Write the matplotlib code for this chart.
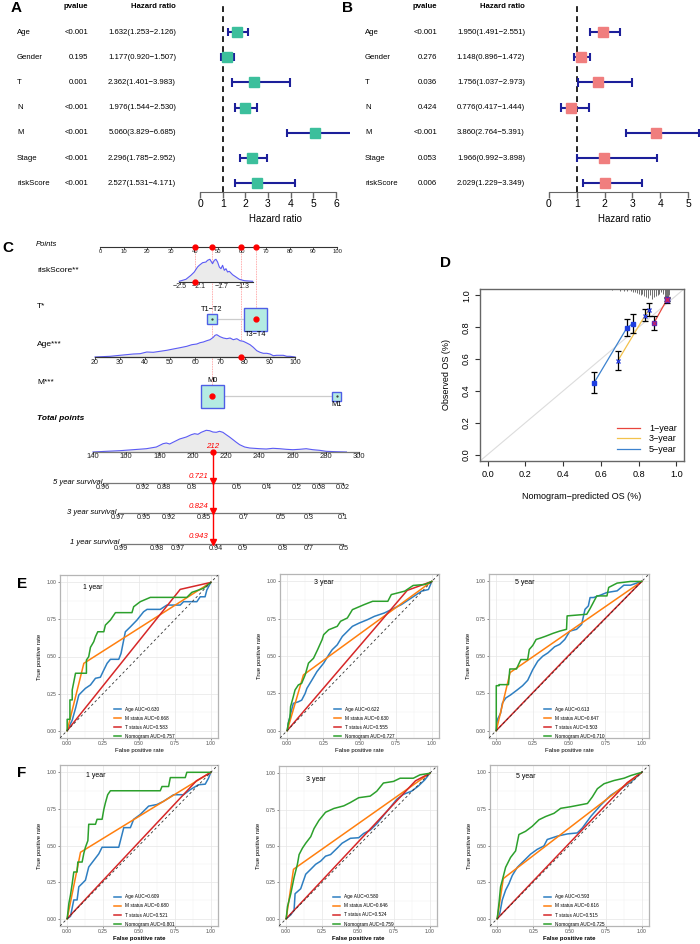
import numpy as np
import matplotlib
matplotlib.use('Agg')
import matplotlib.pyplot as plt
from matplotlib.patches import Rectangle, Polygon
from matplotlib.lines import Line2D

plt.rcParams['font.family'] = ['Liberation Sans', 'DejaVu Sans']

# ---------------- data: forest plots (A univariate, B multivariate) ----------------
forest_vars = ['Age', 'Gender', 'T', 'N', 'M', 'Stage', 'riskScore']
uni_p = ['<0.001', '0.195', '0.001', '<0.001', '<0.001', '<0.001', '<0.001']
uni_hr = [1.632, 1.177, 2.362, 1.976, 5.060, 2.296, 2.527]
uni_lo = [1.253, 0.920, 1.401, 1.544, 3.829, 1.785, 1.531]
uni_hi = [2.126, 1.507, 3.983, 2.530, 6.685, 2.952, 4.171]
multi_p = ['<0.001', '0.276', '0.036', '0.424', '<0.001', '0.053', '0.006']
multi_hr = [1.950, 1.148, 1.756, 0.776, 3.860, 1.966, 2.029]
multi_lo = [1.491, 0.896, 1.037, 0.417, 2.764, 0.992, 1.229]
multi_hi = [2.551, 1.472, 2.973, 1.444, 5.391, 3.898, 3.349]

# ---------------- data: nomogram (C) ----------------
points_ticks = [0, 10, 20, 30, 40, 50, 60, 70, 80, 90, 100]
rs_ticks = [-2.5, -2.1, -1.7, -1.3]
rs_tick_pts = [33.8, 41.8, 51.1, 60.3]
rs_dens_x = [-2.5, -2.373, -2.278, -2.214, -2.152, -2.119, -2.056, -1.992, -1.962, -1.917,
             -1.867, -1.833, -1.802, -1.771, -1.738, -1.707, -1.676, -1.643, -1.612, -1.581,
             -1.548, -1.486, -1.421, -1.357, -1.262, -1.105]
rs_dens_h = [0.7, 2.7, 6.7, 10, 15, 16.7, 19.3, 20, 21.7, 22.7, 18.3, 21.7, 22.7, 20, 15,
             13.3, 16.7, 11.7, 13.3, 10, 10.7, 7.3, 5, 2.7, 1.3, 0.7]
t_levels = ['T1−T2', 'T3−T4']
t_pts = [47.3, 65.8]
t_box = [10, 23]
age_ticks = [20, 30, 40, 50, 60, 70, 80, 90, 100]
age_tick_pts = [-2.1, 8.45, 19.0, 29.55, 40.1, 50.65, 61.2, 71.75, 82.3]
age_dens_x = [20, 26, 30, 35.3, 38, 40.7, 43.3, 46, 48.7, 51.3, 54, 56.7, 58.7, 60.7, 62, 63.3,
              64.7, 66, 67.3, 68, 68.7, 70, 71.3, 72.7, 74, 75.3, 76.7, 78, 79.3, 80.7, 82,
              83.3, 84.7, 86, 87.3, 88.7, 90, 91.3, 92.7, 95.3, 96.7, 98, 100]
age_dens_h = [0, 0.7, 1.7, 3, 3.3, 5, 4.7, 5.7, 6.7, 8, 9.3, 10.7, 12.3, 13, 14.3, 15, 16.3,
              17.3, 19.7, 21.7, 22.3, 20.3, 19, 18.3, 19, 17.3, 18.3, 16.3, 15.7, 14, 12.3,
              9.7, 6.3, 4.7, 3.7, 3.7, 3, 1.3, 1.7, 1.7, 0.7, 0.7, 0]
m_levels = ['M0', 'M1']
m_pts = [47.3, 100.0]
m_box = [23, 9]
tot_ticks = [140, 160, 180, 200, 220, 240, 260, 280, 300]
tot_tick_pts = [-2.95, 11.08, 25.1, 39.1, 53.2, 67.2, 81.3, 95.3, 109.3]
tot_dens_x = [140, 148, 156.1, 164.1, 172.1, 178.1, 182.1, 184.1, 186.1, 188.1, 192.1, 196.1,
              199.1, 201.1, 203.1, 205.1, 208.1, 210.1, 212.1, 214.1, 216.1, 218.1, 220.1,
              222.1, 224.2, 226.2, 228.2, 231.2, 234.2, 240.2, 244.2, 248.2, 252.2, 256.2,
              260.2, 264.2, 268.2, 272.2, 276.2, 280.2, 286.2, 292.4]
tot_dens_h = [0, 0.7, 1.3, 2.3, 3.3, 5, 8.3, 9, 8, 9.7, 13, 15, 17.3, 18.3, 17.7, 19.7, 21.7,
              21.3, 20, 19.7, 20.7, 19.7, 17.3, 15, 12.3, 9.7, 7.3, 5, 4, 3.3, 3, 3.7, 3.3,
              2.7, 2.3, 2.7, 3.3, 2.3, 1.7, 0.7, 0.3, 0]
s5_labels = ['0.96', '0.92', '0.88', '0.8', '0.6', '0.4', '0.2', '0.08', '0.02']
s5_tot = [146, 170, 182.7, 199.5, 226.6, 244.7, 262.7, 276, 290.4]
s3_labels = ['0.97', '0.95', '0.92', '0.85', '0.7', '0.5', '0.3', '0.1']
s3_tot = [155, 170.7, 185.7, 206.8, 230.8, 252.6, 270, 290.5]
s1_labels = ['0.99', '0.98', '0.97', '0.94', '0.9', '0.8', '0.7', '0.5']
s1_tot = [156.8, 178.5, 191, 214, 230, 254.3, 269.5, 290.5]
patient_pts = [40.1, 65.8, 59.5, 47.3]      # riskScore, T, Age, M
patient_total = 212
patient_surv = ['0.721', '0.824', '0.943']  # 5, 3, 1 year

# ---------------- data: calibration (D) ----------------
cal1_x = [0.880, 0.948, 0.952]
cal1_y = [0.825, 0.970, 0.978]
cal1_lo = [0.785, 0.955, 0.965]
cal1_hi = [0.870, 0.985, 0.990]
cal3_x = [0.690, 0.832, 0.855]
cal3_y = [0.590, 0.870, 0.910]
cal3_lo = [0.530, 0.840, 0.870]
cal3_hi = [0.650, 0.915, 0.950]
cal5_x = [0.562, 0.738, 0.768]
cal5_y = [0.447, 0.797, 0.822]
cal5_lo = [0.385, 0.745, 0.765]
cal5_hi = [0.520, 0.850, 0.880]
spike_x = [0.66, 0.70, 0.72, 0.74, 0.76, 0.77, 0.78, 0.79, 0.80, 0.81, 0.82, 0.83, 0.84, 0.85,
           0.86, 0.87, 0.88, 0.89, 0.90, 0.91, 0.92, 0.93, 0.94, 0.945, 0.95, 0.955, 0.96]
spike_len = [0.005, 0.01, 0.01, 0.015, 0.015, 0.02, 0.02, 0.025, 0.03, 0.035, 0.03, 0.045,
             0.05, 0.055, 0.04, 0.06, 0.05, 0.045, 0.035, 0.03, 0.02, 0.03, 0.06, 0.08, 0.09,
             0.07, 0.04]

# ---------------- data: ROC curves (E, F) ----------------
roc_labels = ['Age', 'M status', 'T status', 'Nomogram']
roc_titles = ['1 year', '3 year', '5 year']
E_auc = [[0.630, 0.668, 0.583, 0.757], [0.622, 0.630, 0.555, 0.727], [0.613, 0.647, 0.503, 0.710]]
F_auc = [[0.609, 0.680, 0.521, 0.801], [0.580, 0.646, 0.524, 0.759], [0.593, 0.616, 0.515, 0.725]]

E1_age = [(0, 0), (0.035, 0.07), (0.058, 0.15), (0.081, 0.24), (0.104, 0.263), (0.127, 0.285),
          (0.162, 0.308), (0.197, 0.353), (0.231, 0.36), (0.255, 0.409), (0.278, 0.454),
          (0.301, 0.481), (0.359, 0.481), (0.375, 0.521), (0.405, 0.667), (0.44, 0.7),
          (0.486, 0.746), (0.532, 0.802), (0.556, 0.818), (0.648, 0.818), (0.694, 0.847),
          (0.787, 0.847), (0.81, 0.87), (0.903, 0.87), (0.926, 0.903), (0.96, 0.903),
          (0.972, 0.948), (1, 1)]
E1_m = [(0, 0), (0.116, 0.454), (1, 1)]
E1_t = [(0, 0), (0.787, 0.953), (1, 1)]
E1_nom = [(0, 0), (0, 0.076), (0.019, 0.076), (0.019, 0.207), (0.035, 0.207), (0.035, 0.274),
          (0.058, 0.387), (0.134, 0.387), (0.134, 0.476), (0.15, 0.499), (0.162, 0.562),
          (0.185, 0.6), (0.197, 0.634), (0.213, 0.667), (0.255, 0.667), (0.266, 0.712),
          (0.301, 0.746), (0.336, 0.796), (0.451, 0.796), (0.463, 0.836), (0.509, 0.87),
          (0.579, 0.899), (0.833, 0.899), (0.868, 0.933), (0.949, 0.96), (1, 1)]

E2_age = [(0, 0), (0.007, 0.047), (0.042, 0.182), (0.077, 0.193), (0.1, 0.204), (0.124, 0.249),
          (0.136, 0.283), (0.171, 0.339), (0.206, 0.396), (0.252, 0.452), (0.287, 0.508),
          (0.311, 0.542), (0.346, 0.575), (0.381, 0.631), (0.416, 0.665), (0.451, 0.699),
          (0.498, 0.721), (0.556, 0.744), (0.603, 0.766), (0.673, 0.789), (0.72, 0.811),
          (0.79, 0.845), (0.86, 0.89), (0.93, 0.935), (0.977, 0.946), (1, 1)]
E2_m = [(0, 0), (0.112, 0.373), (1, 1)]
E2_t = [(0, 0), (0.83, 0.94), (1, 1)]
E2_nom = [(0, 0), (0.007, 0.047), (0.019, 0.092), (0.023, 0.16), (0.042, 0.227), (0.054, 0.272),
          (0.077, 0.306), (0.1, 0.317), (0.124, 0.373), (0.147, 0.452), (0.182, 0.485),
          (0.21, 0.542), (0.241, 0.609), (0.252, 0.643), (0.287, 0.676), (0.346, 0.699),
          (0.369, 0.733), (0.416, 0.755), (0.451, 0.811), (0.533, 0.845), (0.591, 0.867),
          (0.696, 0.867), (0.72, 0.912), (0.813, 0.935), (0.871, 0.973), (0.953, 0.98), (1, 1)]

E3_age = [(0, 0), (0.007, 0.072), (0.03, 0.117), (0.042, 0.184), (0.065, 0.218), (0.1, 0.24),
          (0.146, 0.274), (0.181, 0.301), (0.216, 0.337), (0.251, 0.409), (0.285, 0.465),
          (0.32, 0.499), (0.355, 0.521), (0.401, 0.562), (0.436, 0.578), (0.471, 0.611),
          (0.506, 0.667), (0.552, 0.679), (0.587, 0.712), (0.61, 0.813), (0.633, 0.836),
          (0.645, 0.892), (0.668, 0.892), (0.715, 0.908), (0.761, 0.926), (0.831, 0.937),
          (0.877, 0.975), (0.923, 0.975), (1, 1)]
E3_m = [(0, 0), (0.095, 0.389), (1, 1)]
E3_t = [(0, 0), (0.5, 0.506), (1, 1)]
E3_nom = [(0, 0), (0, 0.301), (0.019, 0.301), (0.019, 0.308), (0.084, 0.308), (0.093, 0.413),
          (0.139, 0.413), (0.153, 0.443), (0.169, 0.476), (0.216, 0.476), (0.227, 0.544),
          (0.251, 0.571), (0.274, 0.611), (0.309, 0.622), (0.343, 0.634), (0.39, 0.652),
          (0.436, 0.667), (0.483, 0.679), (0.487, 0.769), (0.622, 0.78), (0.645, 0.818),
          (0.691, 0.903), (0.761, 0.903), (0.773, 0.96), (0.831, 0.989), (0.923, 1), (1, 1)]

F1_age = [(0, 0), (0.023, 0.016), (0.046, 0.128), (0.069, 0.128), (0.081, 0.218), (0.104, 0.24),
          (0.127, 0.263), (0.15, 0.353), (0.185, 0.398), (0.22, 0.443), (0.243, 0.488),
          (0.359, 0.488), (0.394, 0.622), (0.44, 0.622), (0.463, 0.679), (0.509, 0.712),
          (0.567, 0.769), (0.625, 0.78), (0.671, 0.802), (0.741, 0.847), (0.81, 0.847),
          (0.856, 0.881), (0.914, 0.915), (0.961, 0.919), (0.984, 0.96), (1, 1)]
F1_m = [(0, 0), (0.093, 0.454), (1, 1)]
F1_t = [(0, 0), (0.90, 0.942), (1, 1)]
F1_nom = [(0, 0), (0.012, 0.106), (0.023, 0.162), (0.035, 0.24), (0.046, 0.319), (0.069, 0.319),
          (0.074, 0.387), (0.104, 0.387), (0.116, 0.447), (0.127, 0.488), (0.144, 0.533),
          (0.15, 0.645), (0.197, 0.645), (0.208, 0.679), (0.243, 0.679), (0.255, 0.746),
          (0.266, 0.791), (0.282, 0.847), (0.301, 0.874), (0.648, 0.874), (0.66, 0.903),
          (0.706, 0.903), (0.718, 0.964), (0.822, 0.964), (0.833, 1), (1, 1)]

F2_age = [(0, 0), (0.032, 0.027), (0.055, 0.06), (0.062, 0.172), (0.101, 0.206), (0.136, 0.306),
          (0.171, 0.34), (0.205, 0.374), (0.24, 0.396), (0.274, 0.43), (0.309, 0.441),
          (0.355, 0.485), (0.389, 0.519), (0.447, 0.553), (0.505, 0.557), (0.539, 0.586),
          (0.585, 0.609), (0.631, 0.653), (0.677, 0.709), (0.724, 0.765), (0.77, 0.821),
          (0.816, 0.855), (0.873, 0.877), (0.919, 0.911), (0.965, 0.955), (1, 1)]
F2_m = [(0, 0), (0.051, 0.34), (1, 1)]
F2_t = [(0, 0), (0.9, 0.948), (1, 1)]
F2_nom = [(0, 0), (0.009, 0.083), (0.032, 0.172), (0.055, 0.284), (0.078, 0.374), (0.09, 0.441),
          (0.113, 0.485), (0.136, 0.519), (0.171, 0.564), (0.194, 0.62), (0.228, 0.676),
          (0.274, 0.732), (0.332, 0.758), (0.401, 0.776), (0.447, 0.799), (0.505, 0.832),
          (0.585, 0.843), (0.631, 0.877), (0.677, 0.933), (0.747, 0.944), (0.793, 0.966),
          (0.885, 0.966), (0.931, 0.989), (1, 1)]

F3_age = [(0, 0), (0.018, 0.038), (0.035, 0.128), (0.058, 0.195), (0.081, 0.239), (0.104, 0.295),
          (0.139, 0.351), (0.185, 0.396), (0.231, 0.441), (0.277, 0.474), (0.323, 0.497),
          (0.346, 0.541), (0.416, 0.564), (0.485, 0.579), (0.554, 0.586), (0.589, 0.62),
          (0.647, 0.698), (0.716, 0.776), (0.785, 0.843), (0.855, 0.888), (0.924, 0.933), (1, 1)]
F3_m = [(0, 0), (0.042, 0.274), (1, 1)]
F3_t = [(0, 0), (0.9, 0.93), (1, 1)]
F3_nom = [(0, 0), (0.012, 0.105), (0.023, 0.217), (0.035, 0.262), (0.058, 0.351), (0.092, 0.418),
          (0.127, 0.463), (0.15, 0.575), (0.196, 0.597), (0.242, 0.631), (0.289, 0.676),
          (0.335, 0.698), (0.393, 0.72), (0.439, 0.754), (0.508, 0.765), (0.624, 0.787),
          (0.658, 0.832), (0.693, 0.888), (0.739, 0.922), (0.808, 0.944), (0.878, 0.96),
          (0.924, 0.978), (1, 1)]

# ---------------- figure ----------------
W, H = 700, 944
fig = plt.figure(figsize=(W / 100, H / 100), dpi=100)


def pax(x0, y0, x1, y1):
    return fig.add_axes([x0 / W, 1 - y1 / H, (x1 - x0) / W, (y1 - y0) / H])


ov = fig.add_axes([0, 0, 1, 1])
ov.set_xlim(0, W)
ov.set_ylim(H, 0)
ov.axis('off')
ov.set_zorder(20)

LETTER = dict(fontsize=11, fontweight='bold', ha='left', va='top')
ov.text(11, 1, 'A', **LETTER)
ov.text(342, 1, 'B', **LETTER)
ov.text(2, 241, 'C', **LETTER)
ov.text(440, 256, 'D', **LETTER)
ov.text(17, 577, 'E', **LETTER)
ov.text(17, 766, 'F', **LETTER)

CI_COLOR = '#1C1F9A'


def forest(x_name, x_p, x_hr, x_zero, ppu, x_right, tmax, hr, lo, hi, pv, color):
    row0, step = 32.0, 25.2
    ax = pax(x_zero, 3, x_right, 192)
    ax.patch.set_alpha(0)
    n = len(hr)
    rows = np.arange(n)
    ax.set_xlim(0, (x_right - x_zero) / ppu)
    ax.set_ylim((192 - row0) / step, (3 - row0) / step)
    ax.axvline(1, color='black', ls=(0, (3.5, 2.5)), lw=1.2)
    ax.hlines(rows, lo, hi, color=CI_COLOR, lw=1.5)
    ax.vlines(lo, rows - 0.17, rows + 0.17, color=CI_COLOR, lw=1.5)
    ax.vlines(hi, rows - 0.17, rows + 0.17, color=CI_COLOR, lw=1.5)
    ax.plot(hr, rows, 's', color=color, ms=6.5, mec=color, zorder=5)
    for s in ['left', 'top', 'right']:
        ax.spines[s].set_visible(False)
    ax.spines['bottom'].set_bounds(0, tmax)
    ax.spines['bottom'].set_color('#666666')
    ax.set_xticks(range(tmax + 1))
    ax.set_yticks([])
    ax.tick_params(axis='x', length=4, width=1, color='#666666', labelsize=7.5, pad=1)
    ax.set_xlabel('Hazard ratio', fontsize=7, labelpad=4)
    ov.text(x_p, 7, 'pvalue', fontsize=5.6, fontweight='bold', ha='right', va='center')
    ov.text(x_hr, 7, 'Hazard ratio', fontsize=5.6, fontweight='bold', ha='right', va='center')
    for i in range(n):
        y = row0 + step * i
        ov.text(x_name, y, forest_vars[i], fontsize=5.6, ha='left', va='center')
        ov.text(x_p, y, pv[i], fontsize=5.6, ha='right', va='center')
        ov.text(x_hr, y, f'{hr[i]:.3f}({lo[i]:.3f}\u2212{hi[i]:.3f})', fontsize=5.6,
                ha='right', va='center')


forest(17, 88, 176, 200, 22.67, 350, 6, uni_hr, uni_lo, uni_hi, uni_p, '#3CBF9C')
forest(365, 437, 525, 549, 27.8, 700, 5, multi_hr, multi_lo, multi_hi, multi_p, '#F07E7E')

# ---------------- C: nomogram ----------------
PX0, PPU = 100.0, 2.37   # points scale: pixel of 0 points and pixels per point


def p_of(px):
    return (px - PX0) / PPU


axC = pax(0, 228, 370, 560)
axC.set_xlim(p_of(0), p_of(370))
axC.set_ylim(560, 228)
axC.axis('off')
axC.patch.set_alpha(0)

y_pts, y_rs, y_t, y_age, y_m, y_tot, y_s5, y_s3, y_s1 = 247, 282, 319, 357, 396, 452, 483, 513, 544
xl = p_of(37)
lab = dict(fontsize=6, ha='left', va='center')
axC.text(p_of(36), 244, 'Points', fontsize=5.5, style='italic', ha='left', va='center')
axC.text(xl, 270, 'riskScore**', **lab)
axC.text(xl, 307, 'T*', **lab)
axC.text(xl, 345, 'Age***', **lab)
axC.text(xl, 383, 'M***', **lab)
axC.text(xl, 418, 'Total points', fontsize=6, fontweight='bold', style='italic', ha='left',
         va='center')

AXC = '#333333'
TK = dict(ha='center', va='top', fontsize=5, color='#222222')


def hscale(y, xs, labels, fs=5, tick=2.0, lab_off=2.5):
    axC.plot([xs[0], xs[-1]], [y, y], color=AXC, lw=0.8)
    for x, l in zip(xs, labels):
        axC.plot([x, x], [y, y + tick], color=AXC, lw=0.6)
        axC.text(x, y + lab_off, l, ha='center', va='top', fontsize=fs, color='#222222')


# Points axis
hscale(y_pts, points_ticks, [str(v) for v in points_ticks], fs=4.2, tick=1.5, lab_off=2)

# riskScore
rs_fit = np.polyfit(rs_ticks, rs_tick_pts, 1)
rsx = np.polyval(rs_fit, rs_dens_x)
poly = np.column_stack([np.r_[rsx, rsx[::-1]], np.r_[y_rs - np.array(rs_dens_h), np.full(len(rsx), y_rs)]])
axC.add_patch(Polygon(poly, closed=True, fc='#EBEBEB', ec='none'))
axC.plot(rsx, y_rs - np.array(rs_dens_h), color='#5B5BF5', lw=0.8)
axC.plot([rsx[0], rsx[-1]], [y_rs, y_rs], color=AXC, lw=0.8)
for x, v in zip(rs_tick_pts, rs_ticks):
    axC.plot([x, x], [y_rs, y_rs + 1.5], color=AXC, lw=0.6)
    axC.text(x, y_rs + 1.5, f'{v:.1f}'.replace('-', '\u2212'), **TK)

# T boxes
BOXF, BOXE = '#B4EBE2', '#4E5EE6'
axC.plot(t_pts, [y_t, y_t], color='#CCCCCC', lw=0.9, zorder=1)
for x, s in zip(t_pts, t_box):
    axC.add_patch(Rectangle((x - s / 2 / PPU, y_t - s / 2), s / PPU, s, fc=BOXF, ec=BOXE, lw=1, zorder=2))
    axC.plot(x, y_t, '.', color='#333333', ms=1.2, zorder=3)
axC.text(t_pts[0], y_t - t_box[0] / 2 - 1, t_levels[0], ha='center', va='bottom', fontsize=5.3)
axC.text(t_pts[1], y_t + t_box[1] / 2 + 0.5, t_levels[1], ha='center', va='top', fontsize=5.3)

# Age
age_fit = np.polyfit(age_ticks, age_tick_pts, 1)
agx = np.polyval(age_fit, age_dens_x)
poly = np.column_stack([np.r_[agx, agx[::-1]], np.r_[y_age - np.array(age_dens_h), np.full(len(agx), y_age)]])
axC.add_patch(Polygon(poly, closed=True, fc='#EBEBEB', ec='none'))
axC.plot(agx, y_age - np.array(age_dens_h), color='#5B5BF5', lw=0.8)
axC.plot([age_tick_pts[0], age_tick_pts[-1]], [y_age, y_age], color=AXC, lw=0.9)
for x, v in zip(age_tick_pts, age_ticks):
    axC.plot([x, x], [y_age, y_age + 1.5], color=AXC, lw=0.6)
    axC.text(x, y_age + 1.5, str(v), **TK)

# M boxes
axC.plot(m_pts, [y_m, y_m], color='#CCCCCC', lw=0.9, zorder=1)
for x, s in zip(m_pts, m_box):
    axC.add_patch(Rectangle((x - s / 2 / PPU, y_m - s / 2), s / PPU, s, fc=BOXF, ec=BOXE, lw=1, zorder=2))
    axC.plot(x, y_m, '.', color='#333333', ms=1.2, zorder=3)
axC.text(m_pts[0], y_m - m_box[0] / 2 - 0.5, m_levels[0], ha='center', va='bottom', fontsize=5.3)
axC.text(m_pts[1], y_m + m_box[1] / 2 + 0.3, m_levels[1], ha='center', va='top', fontsize=5.3)

# Total points
tot_fit = np.polyfit(tot_ticks, tot_tick_pts, 1)
tdx = np.polyval(tot_fit, tot_dens_x)
poly = np.column_stack([np.r_[tdx, tdx[::-1]], np.r_[y_tot - np.array(tot_dens_h), np.full(len(tdx), y_tot)]])
axC.add_patch(Polygon(poly, closed=True, fc='#EBEBEB', ec='none'))
axC.plot(tdx, y_tot - np.array(tot_dens_h), color='#5B5BF5', lw=0.8)
axC.plot([tot_tick_pts[0], tot_tick_pts[-1]], [y_tot, y_tot], color='#777777', lw=0.9)
for x, v in zip(tot_tick_pts, tot_ticks):
    axC.plot([x, x], [y_tot, y_tot + 1.5], color=AXC, lw=0.6)
    axC.text(x, y_tot + 1.5, str(v), ha='center', va='top', fontsize=5.5, color='#222222')

# survival scales
surv_rows = [(y_s5, '5 year survival', s5_tot, s5_labels),
             (y_s3, '3 year survival', s3_tot, s3_labels),
             (y_s1, '1 year survival', s1_tot, s1_labels)]
for y, name, tots, labels in surv_rows:
    xs = np.polyval(tot_fit, tots)
    axC.plot([xs[0], xs[-1]], [y, y], color='#777777', lw=0.9)
    for x, l in zip(xs, labels):
        axC.plot([x, x], [y, y + 1.5], color=AXC, lw=0.6)
        axC.text(x, y + 1.2, l, ha='center', va='top', fontsize=5.2, color='#222222')
    axC.text(xs[0] - 0.4, y - 1, name, ha='right', va='center', fontsize=5.5, style='italic')

# patient markers
RED = '#FF0000'
var_rows = [y_rs, y_t, y_age, y_m]
for x, y in zip(patient_pts, var_rows):
    axC.plot([x, x], [y_pts, y], color='#FF9090', lw=0.6, ls=(0, (1, 1)), zorder=0)
    axC.plot(x, y, 'o', color=RED, ms=3.5, zorder=6)
    axC.plot(x, y_pts, 'o', color=RED, ms=3.5, zorder=6)
xt = np.polyval(tot_fit, patient_total)
axC.plot([xt, xt], [y_tot, y_s1], color=RED, lw=1.0, zorder=6)
axC.plot(xt, y_tot, 'o', color=RED, ms=3.5, zorder=7)
axC.text(xt, y_tot - 1.5, str(patient_total), color=RED, fontsize=5.7, style='italic',
         ha='center', va='bottom', zorder=8)
for y, s in zip([y_s5, y_s3, y_s1], patient_surv):
    axC.plot(xt, y - 2.5, 'v', color=RED, ms=4.5, zorder=7)
    axC.text(xt - 2, y - 7, s, color=RED, fontsize=5.7, style='italic', ha='right', va='center')

# ---------------- D: calibration ----------------
axD = pax(480, 289, 684, 461)
axD.set_xlim(-0.04, 1.04)
axD.set_ylim(-0.04, 1.04)
axD.plot([-0.04, 1.04], [-0.04, 1.04], color='#DCDCDC', lw=0.8, zorder=1)
axD.vlines(spike_x, 1.04 - np.array(spike_len), 1.04, color='#6E6E6E', lw=0.7)
C1, C3, C5 = '#E8453C', '#F3C24C', '#3C82CF'
axD.plot(cal1_x, cal1_y, color=C1, lw=0.9)
axD.plot(cal3_x, cal3_y, color=C3, lw=0.9)
axD.plot(cal5_x, cal5_y, color=C5, lw=0.9)
for xs, ys, lo, hi in [(cal1_x, cal1_y, cal1_lo, cal1_hi), (cal3_x, cal3_y, cal3_lo, cal3_hi),
                       (cal5_x, cal5_y, cal5_lo, cal5_hi)]:
    axD.errorbar(xs, ys, yerr=[np.array(ys) - np.array(lo), np.array(hi) - np.array(ys)],
                 fmt='none', ecolor='black', elinewidth=0.9, capsize=2, capthick=0.9, zorder=3)
axD.plot(cal5_x, cal5_y, 's', color='#1F3FE0', ms=3.2, zorder=4)
axD.plot(cal3_x, cal3_y, 'x', color='#2A3FD8', ms=3.5, mew=1, zorder=4)
axD.plot(cal1_x, cal1_y, 's', color='#4030C8', ms=3.2, zorder=4)
axD.plot(cal1_x, cal1_y, 'x', color='#D02060', ms=3, mew=0.8, zorder=5)
ticks = [0.0, 0.2, 0.4, 0.6, 0.8, 1.0]
axD.set_xticks(ticks)
axD.set_yticks(ticks)
axD.set_xticklabels([f'{t:.1f}' for t in ticks])
axD.set_yticklabels([f'{t:.1f}' for t in ticks], rotation=90, va='center')
axD.tick_params(length=3.5, width=0.8, labelsize=6.6, pad=3, color='#333333')
for s in axD.spines.values():
    s.set_color('#666666')
    s.set_linewidth(1)
axD.set_xlabel('Nomogram\u2212predicted OS (%)', fontsize=6.5, labelpad=9)
axD.set_ylabel('Observed OS (%)', fontsize=6.5, labelpad=8)
hd = [Line2D([], [], color=C1, lw=0.9), Line2D([], [], color=C3, lw=0.9), Line2D([], [], color=C5, lw=0.9)]
axD.legend(hd, ['1\u2212year', '3\u2212year', '5\u2212year'], loc='lower right', frameon=False,
           fontsize=6.5, handlelength=2.6, labelspacing=0.15, borderaxespad=0.4, handletextpad=1.0)

# ---------------- E / F: ROC ----------------
ROC_COL = ['#2E7EC1', '#FF7F0E', '#D62728', '#2CA02C']


def roc_panel(box, curves, aucs, title, tpos, xl_bold=False):
    ax = pax(*box)
    ax.set_xlim(-0.05, 1.05)
    ax.set_ylim(-0.05, 1.05)
    g = [0, 0.25, 0.5, 0.75, 1.0]
    for v in [0.125, 0.375, 0.625, 0.875]:
        ax.axvline(v, color='#F2F2F2', lw=0.35, zorder=0)
        ax.axhline(v, color='#F2F2F2', lw=0.35, zorder=0)
    for v in g:
        ax.axvline(v, color='#E6E6E6', lw=0.5, zorder=0)
        ax.axhline(v, color='#E6E6E6', lw=0.5, zorder=0)
    handles = []
    for c, col, lab, auc in zip(curves, ROC_COL, roc_labels, aucs):
        xy = np.array(c)
        h, = ax.plot(xy[:, 0], xy[:, 1], color=col, lw=1.1, zorder=3)
        handles.append((h, f'{lab} AUC={auc:.3f}'))
    ax.plot([-0.05, 1.05], [-0.05, 1.05], color='#333333', lw=0.6, ls=(0, (3, 3)), zorder=4)
    ax.set_xticks(g)
    ax.set_yticks(g)
    ax.set_xticklabels(['0.00', '0.25', '0.50', '0.75', '1.00'])
    ax.set_yticklabels(['0.00', '0.25', '0.50', '0.75', '1.00'])
    ax.tick_params(length=1.5, width=0.5, labelsize=3.6, pad=1.0, color='#555555', labelcolor='#4D4D4D')
    for s in ax.spines.values():
        s.set_color('#B5B5B5')
        s.set_linewidth(0.9)
    ax.set_xlabel('False positive rate', fontsize=4.3, labelpad=1.0,
                  fontweight='bold' if xl_bold else 'normal')
    ax.set_ylabel('True positive rate', fontsize=4.3, labelpad=3)
    ax.text(tpos[0], tpos[1], title, fontsize=5, ha='center', va='center')
    ax.legend([h for h, _ in handles], [t for _, t in handles], loc='lower left',
              bbox_to_anchor=(0.33, -0.015), frameon=False, fontsize=3.4, handlelength=1.5,
              labelspacing=0.85, handletextpad=0.8, borderaxespad=0.0)


E_boxes = [(60, 575, 218, 738), (280, 574, 439, 738), (489, 574, 649, 738)]
F_boxes = [(60, 765, 218, 926), (279, 766, 437, 926), (490, 765, 649, 926)]
E_tpos = [(0.18, 0.966), (0.255, 0.99), (0.197, 0.993)]
F_tpos = [(0.2, 0.977), (0.207, 0.955), (0.196, 0.971)]
E_curves = [[E1_age, E1_m, E1_t, E1_nom], [E2_age, E2_m, E2_t, E2_nom], [E3_age, E3_m, E3_t, E3_nom]]
F_curves = [[F1_age, F1_m, F1_t, F1_nom], [F2_age, F2_m, F2_t, F2_nom], [F3_age, F3_m, F3_t, F3_nom]]
for i in range(3):
    roc_panel(E_boxes[i], E_curves[i], E_auc[i], roc_titles[i], E_tpos[i])
    roc_panel(F_boxes[i], F_curves[i], F_auc[i], roc_titles[i], F_tpos[i], xl_bold=True)

fig.savefig('out.png', dpi=100)
